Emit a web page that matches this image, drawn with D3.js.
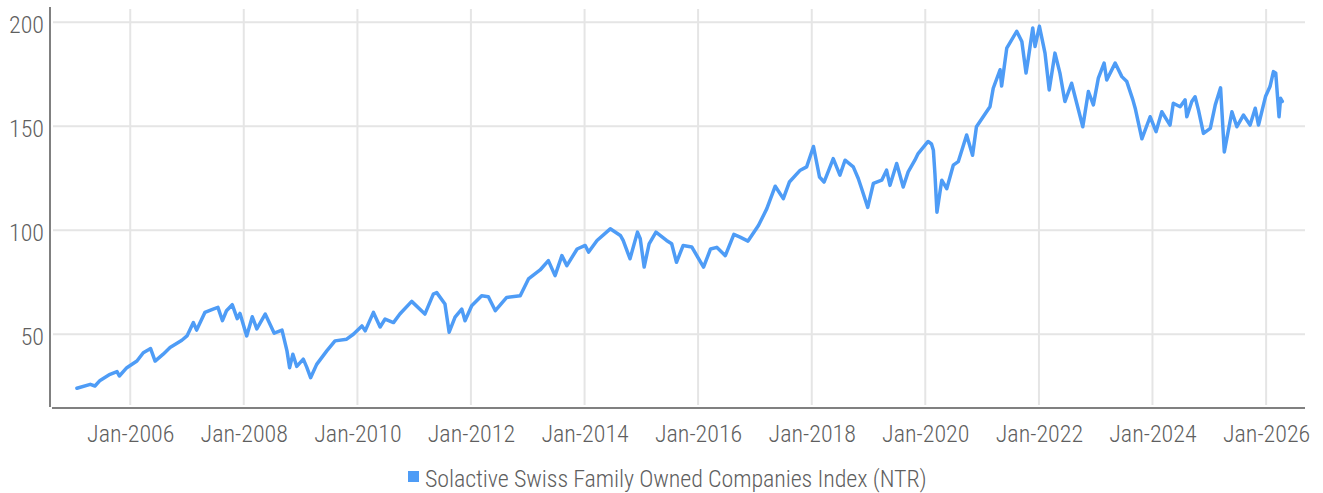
<!DOCTYPE html>
<html>
<head>
<meta charset="utf-8">
<script src="https://cdn.jsdelivr.net/npm/d3@7"></script>
<style>
  html, body { margin: 0; padding: 0; background: #fff; }
  svg text { font-family: "Roboto Condensed", "Liberation Sans Narrow", "DejaVu Sans Condensed", sans-serif; font-weight: 300; fill: #5f5f5f; }
</style>
</head>
<body>
<svg id="chart" width="1323" height="493"></svg>
<script>
const seriesName = "Solactive Swiss Family Owned Companies Index (NTR)";

const dates = [
  "2005-01-23","2005-04-19","2005-05-19","2005-06-21","2005-08-24","2005-10-08","2005-10-23","2005-12-10",
  "2006-02-13","2006-03-26","2006-05-12","2006-06-10","2006-08-01","2006-09-14","2006-11-29",
  "2007-01-01","2007-02-11","2007-03-04","2007-04-26","2007-06-18","2007-07-19","2007-08-17","2007-09-12","2007-10-19","2007-11-20","2007-12-08",
  "2008-01-20","2008-02-25","2008-03-25","2008-05-18","2008-07-15","2008-09-03","2008-10-05","2008-10-22","2008-11-12","2008-12-07",
  "2009-01-18","2009-02-09","2009-03-06","2009-04-14","2009-06-18","2009-08-10","2009-10-24","2009-12-06",
  "2010-01-30","2010-02-20","2010-04-14","2010-05-27","2010-06-28","2010-08-21","2010-10-01","2010-12-16",
  "2011-03-11","2011-05-04","2011-05-26","2011-07-18","2011-08-14","2011-09-21","2011-11-03","2011-11-24",
  "2012-01-06","2012-03-10","2012-04-22","2012-06-06","2012-08-18","2012-11-13",
  "2013-01-05","2013-03-21","2013-05-13","2013-06-25","2013-08-08","2013-09-09","2013-11-14",
  "2014-01-05","2014-01-27","2014-03-22","2014-06-15","2014-08-19","2014-09-06","2014-10-20","2014-12-07","2014-12-25",
  "2015-01-19","2015-02-20","2015-04-05","2015-06-12","2015-07-15","2015-08-15","2015-09-27","2015-11-21",
  "2016-02-05","2016-03-21","2016-04-30","2016-06-24","2016-08-18","2016-09-27","2016-11-17",
  "2017-01-23","2017-03-18","2017-05-11","2017-07-02","2017-08-10","2017-10-19","2017-11-29",
  "2018-01-12","2018-02-20","2018-03-21","2018-04-16","2018-05-19","2018-07-01","2018-08-03","2018-09-25","2018-10-27","2018-11-18","2018-12-27",
  "2019-02-01","2019-03-27","2019-04-27","2019-05-19","2019-07-01","2019-08-12","2019-09-13","2019-10-26","2019-11-16",
  "2020-01-19","2020-02-10","2020-02-22","2020-03-03","2020-03-16","2020-04-16","2020-05-18","2020-06-29","2020-07-31","2020-09-23","2020-10-31","2020-11-25",
  "2021-01-29","2021-02-20","2021-03-13","2021-04-26","2021-05-06","2021-06-08","2021-08-11","2021-09-13","2021-10-10","2021-10-25","2021-11-22","2021-12-07",
  "2022-01-04","2022-02-09","2022-03-08","2022-04-14","2022-05-16","2022-06-17","2022-07-30","2022-09-01","2022-10-10","2022-11-15","2022-12-17",
  "2023-01-18","2023-02-24","2023-03-13","2023-05-06","2023-06-18","2023-07-20","2023-08-28","2023-09-12","2023-10-25","2023-12-17",
  "2024-01-24","2024-03-01","2024-04-23","2024-05-14","2024-06-27","2024-07-29","2024-08-09","2024-09-10","2024-10-01","2024-10-23","2024-11-24",
  "2025-01-07","2025-02-08","2025-03-14","2025-04-07","2025-05-26","2025-06-27","2025-08-08","2025-09-20","2025-10-23","2025-11-13","2025-12-28",
  "2026-01-26","2026-02-17","2026-03-04","2026-03-25","2026-04-04","2026-04-15"
];

const values = [
  24.0,25.9,25.1,27.8,30.7,32.0,29.9,33.9,
  37.1,41.1,43.1,37.1,40.4,43.6,47.1,
  49.2,55.6,52.0,60.5,62.1,62.9,56.5,61.3,64.2,57.5,60.0,
  49.2,58.4,52.6,59.7,50.5,52.0,42.0,33.9,40.4,34.5,
  38.0,34.2,29.1,35.5,42.0,46.8,47.6,50.0,
  54.0,51.6,60.5,53.5,57.3,55.6,59.7,65.8,
  59.7,69.3,70.0,64.5,51.0,58.2,62.1,56.5,
  63.7,68.5,68.0,61.3,67.7,68.5,
  76.6,80.9,85.4,78.2,87.8,83.0,91.0,
  92.7,89.5,95.1,100.7,97.5,95.1,86.3,99.1,95.9,
  82.3,93.5,99.1,95.1,93.5,84.6,92.7,92.0,
  82.3,91.0,91.8,87.8,98.0,96.7,94.8,
  102.3,110.4,121.2,115.2,123.2,128.9,130.5,
  140.3,125.6,123.2,128.1,134.5,126.5,133.7,130.5,124.9,120.0,111.0,
  122.5,124.1,128.9,121.6,132.1,120.8,128.1,133.7,136.9,
  142.7,141.5,138.5,127.3,108.7,124.1,120.0,131.3,133.0,145.8,136.1,149.8,
  157.0,159.4,168.3,177.2,169.4,187.6,195.7,190.8,175.6,182.8,197.3,188.4,
  198.1,185.2,167.5,185.2,175.6,161.9,170.7,161.1,149.8,166.7,160.3,
  173.2,180.4,172.3,180.4,173.9,171.5,162.7,158.7,144.0,154.6,
  147.4,157.0,150.6,161.1,159.4,162.7,154.6,161.9,164.2,157.8,146.6,
  149.0,160.3,168.5,137.7,157.0,149.8,155.4,150.6,158.7,150.6,164.3,
  169.1,176.3,175.5,154.6,163.5,162.0
];

const yTicks = [50, 100, 150, 200];
const xTickYears = [2006, 2008, 2010, 2012, 2014, 2016, 2018, 2020, 2022, 2024, 2026];

const parse = d3.timeParse("%Y-%m-%d");
const data = dates.map((d, i) => ({ date: parse(d), value: values[i] }));

const svg = d3.select("#chart");
const mLeft = 50, mRight = 1305, mTop = 8, mBottom = 407;

const x = d3.scaleTime()
  .domain([new Date(2004, 7, 3), new Date(2026, 8, 8)])
  .range([mLeft, mRight]);
const y = d3.scaleLinear()
  .domain([15, 206.9])
  .range([mBottom, mTop]);

const lineColor = "#4e9cf6";
const gridColor = "#e5e5e5";
const axisColor = "#808080";

// grid
const g = svg.append("g");
g.selectAll("line.hg").data(yTicks).enter().append("line")
  .attr("x1", mLeft + 3).attr("x2", mRight)
  .attr("y1", d => y(d)).attr("y2", d => y(d))
  .attr("stroke", gridColor).attr("stroke-width", 2);
const xTicks = xTickYears.map(yy => new Date(yy, 0, 1));
g.selectAll("line.vg").data(xTicks).enter().append("line")
  .attr("x1", d => x(d)).attr("x2", d => x(d))
  .attr("y1", mTop + 1).attr("y2", mBottom - 2)
  .attr("stroke", gridColor).attr("stroke-width", 2);

// axes
const yAxis = d3.axisLeft(y).tickValues(yTicks).tickSize(0).tickPadding(6);
svg.append("g").attr("transform", `translate(${mLeft},0)`).call(yAxis)
  .call(s => s.select(".domain").remove())
  .call(s => s.selectAll("text").attr("font-size", 24).attr("dy", "0.42em"));
svg.append("line").attr("x1", mLeft).attr("x2", mLeft).attr("y1", mTop - 1).attr("y2", mBottom)
  .attr("stroke", axisColor).attr("stroke-width", 2);

const xAxis = d3.axisBottom(x).tickValues(xTicks).tickSize(0).tickPadding(18)
  .tickFormat(d3.timeFormat("%b-%Y"));
svg.append("g").attr("transform", `translate(0,${mBottom})`).call(xAxis)
  .call(s => s.select(".domain").remove())
  .call(s => s.selectAll("text").attr("font-size", 24));
svg.append("line").attr("x1", mLeft + 2).attr("x2", mRight).attr("y1", mBottom + 1).attr("y2", mBottom + 1)
  .attr("stroke", axisColor).attr("stroke-width", 2);

// line
svg.append("path").datum(data)
  .attr("fill", "none")
  .attr("stroke", lineColor)
  .attr("stroke-width", 3.5)
  .attr("stroke-linejoin", "round")
  .attr("stroke-linecap", "round")
  .attr("d", d3.line().x(d => x(d.date)).y(d => y(d.value)));

// legend
const leg = svg.append("g");
leg.append("text")
  .attr("x", 425).attr("y", 479).attr("dy", "0.35em")
  .attr("font-size", 24).attr("letter-spacing", -0.1).text(seriesName);
leg.append("rect").attr("x", 408).attr("y", 471).attr("width", 11).attr("height", 11)
  .attr("fill", lineColor);
</script>
</body>
</html>
